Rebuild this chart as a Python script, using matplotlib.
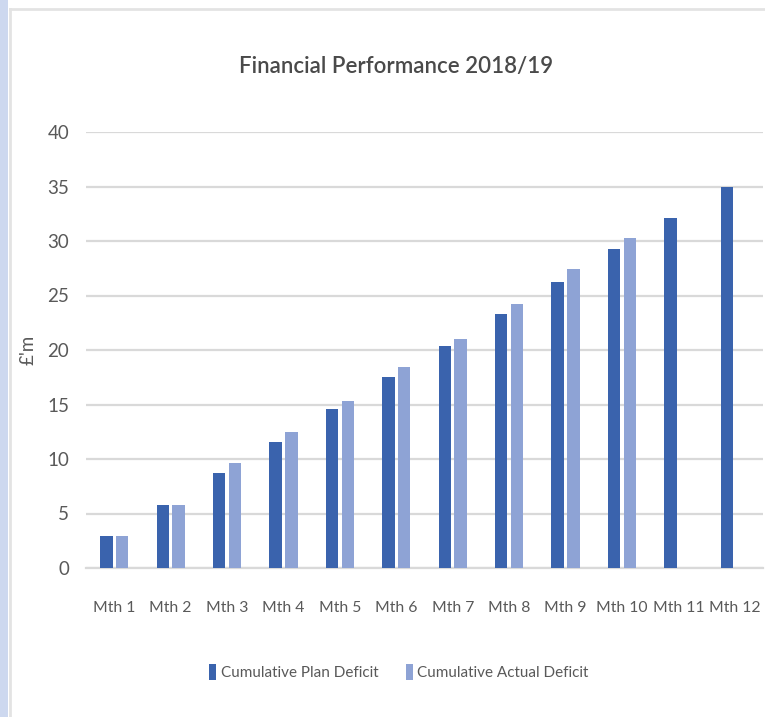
import matplotlib
matplotlib.use('Agg')
import matplotlib.pyplot as plt
from matplotlib.patches import Rectangle
from matplotlib.lines import Line2D
import numpy as np

# chart data
months = ['Mth 1', 'Mth 2', 'Mth 3', 'Mth 4', 'Mth 5', 'Mth 6',
          'Mth 7', 'Mth 8', 'Mth 9', 'Mth 10', 'Mth 11', 'Mth 12']
plan_deficit = [2.9, 5.8, 8.7, 11.6, 14.6, 17.5, 20.4, 23.3, 26.2, 29.3, 32.1, 35.0]
actual_deficit = [2.9, 5.8, 9.6, 12.5, 15.3, 18.4, 21.0, 24.2, 27.4, 30.3, np.nan, np.nan]
y_ticks = [0, 5, 10, 15, 20, 25, 30, 35, 40]

plan_col = '#3a63ad'
actual_col = '#8ea3d5'
text_col = '#595959'
grid_col = '#d9d9d9'

# Calibri is not available, Lato is the nearest in width
plt.rcParams['font.family'] = ['Lato', 'DejaVu Sans']

fig = plt.figure(figsize=(7.65, 7.17), dpi=100)

# bits of the spreadsheet behind the chart (screenshot edge)
fig.patches.append(Rectangle((0, 0), 8 / 765, 1, transform=fig.transFigure,
                             facecolor='#cdd8ef', edgecolor='none', zorder=0))
fig.add_artist(Line2D([10 / 765, 10 / 765], [0, 1 - 9 / 717], transform=fig.transFigure,
                      color='#e3e3e3', lw=2))
fig.add_artist(Line2D([10 / 765, 1], [1 - 9 / 717, 1 - 9 / 717], transform=fig.transFigure,
                      color='#e3e3e3', lw=2))

ax = fig.add_axes([86 / 765, 1 - 568 / 717, (763 - 86) / 765, (568 - 132) / 717])

x = np.arange(len(months))
w = 0.22
off = 0.14
ax.bar(x - off, plan_deficit, w, color=plan_col, label='Cumulative Plan Deficit', zorder=3)
ax.bar(x + off, actual_deficit, w, color=actual_col, label='Cumulative Actual Deficit', zorder=3)

ax.set_xlim(-0.5, len(months) - 0.5)
ax.set_ylim(0, 40)
ax.set_yticks(y_ticks)
ax.set_xticks(x)
ax.set_xticklabels(months)

ax.yaxis.grid(True, color=grid_col, lw=1.6, zorder=0)
ax.set_axisbelow(True)
for s in ['top', 'right', 'left']:
    ax.spines[s].set_visible(False)
ax.spines['bottom'].set_color(grid_col)
ax.spines['bottom'].set_linewidth(1.6)

ax.tick_params(axis='y', length=0, pad=12, labelsize=13.5, labelcolor=text_col)
ax.tick_params(axis='x', length=0, pad=24, labelsize=11.3, labelcolor=text_col)

ax.set_ylabel("£'m", fontsize=13.5, color=text_col, labelpad=8)

fig.text(396 / 765, 1 - 66 / 717, 'Financial Performance 2018/19', ha='center', va='center',
         fontsize=16, fontweight='semibold', color='#4a4a4a')

leg = ax.legend(loc='center', bbox_to_anchor=(399 / 765, 1 - 672 / 717),
                bbox_transform=fig.transFigure, ncol=2, frameon=False,
                fontsize=11, handlelength=0.45, handleheight=1.2,
                handletextpad=0.3, columnspacing=1.8)
for t in leg.get_texts():
    t.set_color(text_col)

fig.savefig('out.png', dpi=100)
